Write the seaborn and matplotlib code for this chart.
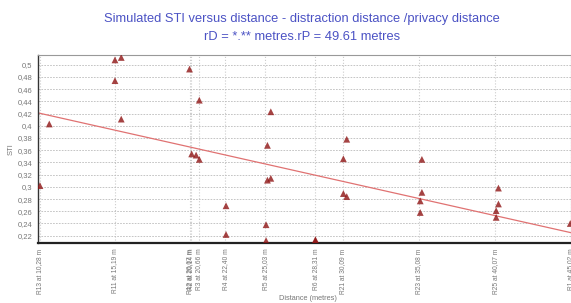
import matplotlib
matplotlib.use("Agg")
import matplotlib.pyplot as plt
import seaborn as sns
import pandas as pd
import numpy as np

# ---- data ----
distance = [10.28, 10.89, 15.19, 15.60, 15.19, 15.60, 20.07, 20.21, 20.50, 20.71, 20.71,
            22.46, 22.46, 25.39, 25.17, 25.17, 25.39, 25.08, 25.08, 28.31, 28.31,
            30.36, 30.14, 30.14, 30.36, 35.28, 35.28, 35.17, 35.17,
            40.29, 40.29, 40.14, 40.14, 44.99]
sti = [0.302, 0.403, 0.508, 0.512, 0.474, 0.411, 0.493, 0.354, 0.352, 0.345, 0.442,
       0.269, 0.222, 0.423, 0.368, 0.311, 0.314, 0.238, 0.212, 0.2135, 0.212,
       0.378, 0.346, 0.289, 0.284, 0.345, 0.291, 0.277, 0.258,
       0.298, 0.272, 0.261, 0.250, 0.240]

tick_pos = [10.28, 15.19, 20.07, 20.14, 20.66, 22.40, 25.03, 28.31, 30.09, 35.08, 40.07, 45.02]
tick_labels = ["R13 at 10,28 m", "R11 at 15,19 m", "R12 at 20,07 m", "R2 at 20,14 m",
               "R3 at 20,66 m", "R4 at 22,40 m", "R5 at 25,03 m", "R6 at 28,31 m",
               "R21 at 30,09 m", "R23 at 35,08 m", "R25 at 40,07 m", "R1 at 45,02 m"]
y_ticks = [0.22, 0.24, 0.26, 0.28, 0.30, 0.32, 0.34, 0.36, 0.38, 0.40,
           0.42, 0.44, 0.46, 0.48, 0.50]
y_tick_labels = ["0,22", "0,24", "0,26", "0,28", "0,3", "0,32", "0,34", "0,36", "0,38", "0,4",
                 "0,42", "0,44", "0,46", "0,48", "0,5"]

df = pd.DataFrame({"Distance": distance, "STI": sti})

sns.set_theme(style="white")
plt.rcParams['font.family'] = ['Liberation Sans', 'DejaVu Sans']

fig = plt.figure(figsize=(5.71, 3.03), dpi=100)
ax = fig.add_axes([0.0665, 0.198, 0.933, 0.6205])

sns.regplot(data=df, x="Distance", y="STI", ax=ax, ci=None, truncate=False, marker="^",
            scatter_kws=dict(s=24, color="#8f1414", edgecolors="none", zorder=3),
            line_kws=dict(color="#e07272", lw=0.9, zorder=2))

ax.set_xlim(10.15, 45.0)
ax.set_ylim(0.208, 0.516)

ax.set_xticks(tick_pos)
ax.set_xticklabels(tick_labels, rotation=90, fontsize=4.8, color="#777777")
ax.set_yticks(y_ticks)
ax.set_yticklabels(y_tick_labels, fontsize=5.5, color="#777777")
ax.tick_params(axis="both", length=2, width=0.6, color="#777777", pad=2)
for lbl in ax.get_xticklabels():
    lbl.set_clip_on(False)

ax.grid(True, axis="x", color="#cccccc", linestyle=":", linewidth=0.8)
ax.grid(True, axis="y", color="#bbbbbb", linestyle=(0, (2, 1.5)), linewidth=0.6)
ax.set_axisbelow(True)

ax.set_xlabel("")
ax.set_ylabel("STI", fontsize=5.5, color="#777777", labelpad=2)
fig.text(308 / 571, 1 - 299 / 303, "Distance (metres)", ha="center", va="center",
         fontsize=5.3, color="#777777")

for side in ["top", "right"]:
    ax.spines[side].set_color("#999999")
    ax.spines[side].set_linewidth(0.8)
ax.spines["left"].set_color("#333333")
ax.spines["left"].set_linewidth(1.0)
ax.spines["bottom"].set_color("#222222")
ax.spines["bottom"].set_linewidth(1.6)

fig.text(0.529, 0.937, "Simulated STI versus distance - distraction distance /privacy distance",
         ha="center", va="center", fontsize=9.3, color="#4b52c4")
fig.text(0.529, 0.879, "rD = *.** metres.rP = 49.61 metres",
         ha="center", va="center", fontsize=9.3, color="#4b52c4")

fig.savefig("out.png", dpi=100)
